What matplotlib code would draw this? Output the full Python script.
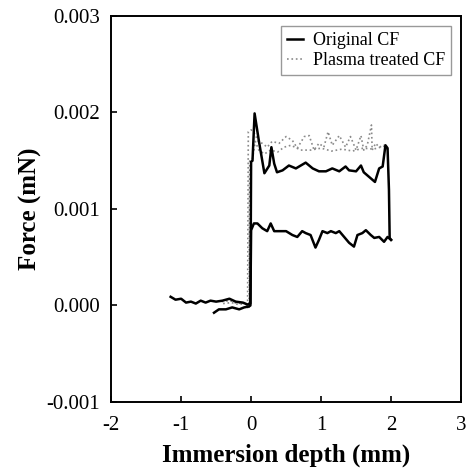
import numpy as np
import matplotlib.pyplot as plt

plt.rcParams['font.family'] = ['Liberation Serif', 'DejaVu Serif']
plt.rcParams['axes.unicode_minus'] = False

# Original CF, run 1 (lower plateau)
orig1_x = [-1.15, -1.08, -1.00, -0.93, -0.86, -0.79, -0.72, -0.65, -0.58, -0.50,
           -0.41, -0.31, -0.22, -0.12, -0.05, -0.01, 0.00, 0.04, 0.09, 0.16,
           0.23, 0.28, 0.33, 0.40, 0.50, 0.59, 0.66, 0.73, 0.78, 0.85,
           0.92, 0.97, 1.02, 1.09, 1.14, 1.21, 1.26, 1.33, 1.40, 1.47,
           1.52, 1.59, 1.64, 1.71, 1.76, 1.83, 1.90, 1.95, 2.00]
orig1_y = [0.00009, 0.00006, 0.00007, 0.00003, 0.00004, 0.00002, 0.00005, 0.00003, 0.00005, 0.00004,
           0.00005, 0.00007, 0.00004, 0.00003, 0.00001, 0.00002, 0.00078, 0.00085, 0.00085, 0.00080,
           0.00077, 0.00085, 0.00077, 0.00077, 0.00077, 0.00073, 0.00071, 0.00077, 0.00075, 0.00073,
           0.00060, 0.00068, 0.00077, 0.00075, 0.00077, 0.00075, 0.00077, 0.00071, 0.00065, 0.00061,
           0.00073, 0.00075, 0.00078, 0.00073, 0.00070, 0.00071, 0.00066, 0.00071, 0.00068]

# Original CF, run 2 (upper plateau)
orig2_x = [-0.53, -0.46, -0.36, -0.27, -0.17, -0.10, -0.03, -0.01, 0.00, 0.02,
           0.05, 0.08, 0.11, 0.19, 0.26, 0.29, 0.33, 0.37, 0.45, 0.54,
           0.64, 0.78, 0.88, 0.97, 1.07, 1.16, 1.26, 1.35, 1.40, 1.50,
           1.57, 1.61, 1.69, 1.77, 1.83, 1.88, 1.92, 1.95, 1.97, 1.98, 2.00]
orig2_y = [-0.000075, -0.00004, -0.00004, -0.00002, -0.00004, -0.00002, -0.00001, 0.00000, 0.00149, 0.00150,
           0.00199, 0.00185, 0.00171, 0.00137, 0.00145, 0.00164, 0.00147, 0.00138, 0.00140, 0.00145,
           0.00142, 0.00148, 0.00142, 0.00139, 0.00139, 0.00142, 0.00139, 0.00144, 0.00140, 0.00139,
           0.00145, 0.00138, 0.00133, 0.00128, 0.00142, 0.00144, 0.00166, 0.00163, 0.00120, 0.00070, 0.00068]

# Plasma treated CF, run 1
plasma1_x = [-0.42, -0.30, -0.20, -0.10, -0.05, -0.04, 0.00, 0.05, 0.11, 0.16,
             0.23, 0.30, 0.40, 0.50, 0.59, 0.66, 0.76, 0.83, 0.90, 0.97,
             1.04, 1.10, 1.16, 1.26, 1.35, 1.42, 1.50, 1.57, 1.61, 1.66,
             1.72, 1.73, 1.78, 1.83, 1.90, 1.93]
plasma1_y = [0.00004, 0.00005, 0.00002, 0.00003, -0.00002, 0.00180, 0.00182, 0.00178, 0.00169, 0.00168,
             0.00164, 0.00170, 0.00168, 0.00175, 0.00171, 0.00163, 0.00175, 0.00176, 0.00161, 0.00168,
             0.00164, 0.00180, 0.00166, 0.00176, 0.00164, 0.00175, 0.00161, 0.00176, 0.00161, 0.00166,
             0.00187, 0.00161, 0.00168, 0.00164, 0.00166, 0.00166]

# Plasma treated CF, run 2
plasma2_x = [-0.40, -0.28, -0.18, -0.08, -0.03, -0.02, 0.02, 0.06, 0.11, 0.19,
             0.28, 0.38, 0.47, 0.57, 0.71, 0.85, 1.00, 1.15, 1.30, 1.45,
             1.60, 1.75, 1.90]
plasma2_y = [0.00002, 0.00003, 0.00001, 0.00002, -0.00004, 0.00150, 0.00152, 0.00170, 0.00161, 0.00157,
             0.00161, 0.00159, 0.00164, 0.00166, 0.00161, 0.00161, 0.00163, 0.00160, 0.00162, 0.00160,
             0.00163, 0.00162, 0.00165]

fig = plt.figure(figsize=(4.69, 4.68), dpi=100)
ax = fig.add_axes([0.237, 0.141, 0.746, 0.825])

ax.plot(plasma1_x, plasma1_y, color='#8a8a8a', ls=':', lw=1.2, label='Plasma treated CF')
ax.plot(plasma2_x, plasma2_y, color='#8a8a8a', ls=':', lw=1.2)
ax.plot(orig1_x, orig1_y, color='black', lw=1.8, label='Original CF')
ax.plot(orig2_x, orig2_y, color='black', lw=1.8)

ax.set_xlim(-2, 3)
ax.set_ylim(-0.001, 0.003)
ax.set_xticks([-2, -1, 0, 1, 2, 3])
ax.set_yticks([-0.001, 0.0, 0.001, 0.002, 0.003])
ax.set_yticklabels(['%.3f' % v for v in ax.get_yticks()])
ax.tick_params(direction='in', length=4, width=1.2, labelsize=15, top=False, right=False)
ax.tick_params(axis='x', pad=10)
ax.tick_params(axis='y', pad=8)
for s in ax.spines.values():
    s.set_linewidth(1.4)

ax.set_xlabel('Immersion depth (mm)', fontsize=18, fontweight='bold', labelpad=6)
ax.set_ylabel('Force (mN)', fontsize=18, fontweight='bold', labelpad=3)

handles, labels = ax.get_legend_handles_labels()
leg = ax.legend(handles[::-1], labels[::-1], loc='upper right', fontsize=13,
                handlelength=0.9, handletextpad=0.5, fancybox=False,
                edgecolor='#808080', borderaxespad=0.55, borderpad=0.35, labelspacing=0.15)
leg.get_frame().set_linewidth(1.0)

fig.savefig('out.png', dpi=100)
